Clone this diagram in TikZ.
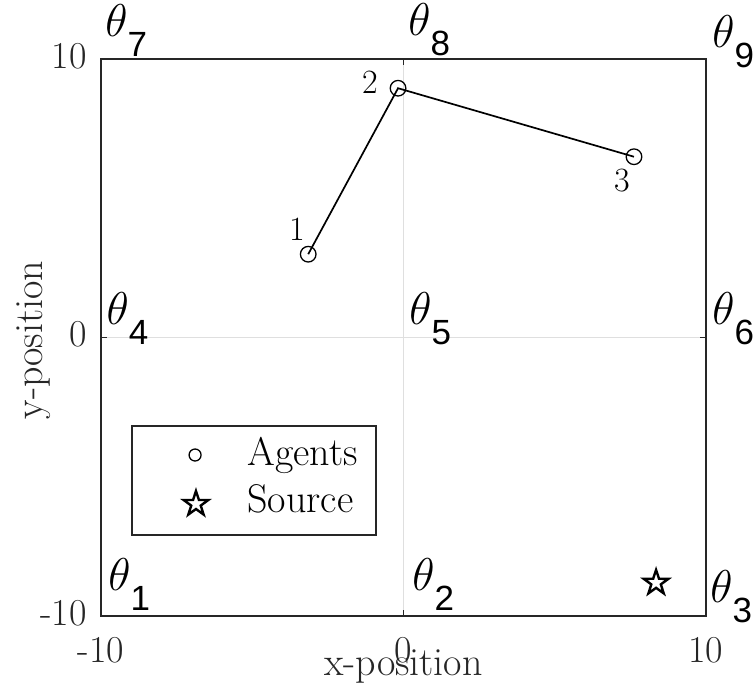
\documentclass[tikz,border=0pt]{standalone}
\usepackage{fontspec}
\usepackage{graphicx}
\usepackage{xcolor}
\usetikzlibrary{shapes.geometric, positioning}
\newfontfamily\helvfont{Liberation Sans}
\definecolor{axgray}{HTML}{262626}
\definecolor{gridgray}{HTML}{DFDFDF}
\newcommand{\regionlabel}[1]{\scalebox{1.33}{$\theta$}\raisebox{-10pt}{\helvfont #1}}
\tikzset{
	gridline/.style={draw=gridgray, line width=0.85pt},
	axbox/.style={draw=axgray, line width=0.9pt},
	ticklabel/.style={text=axgray, inner sep=0pt, font=\fontsize{19}{22}\selectfont},
	axlabel/.style={text=axgray, inner sep=0pt, anchor=base, font=\fontsize{20}{24}\selectfont},
	agent/.style={circle, draw, line width=0.65pt, minimum size=7.8pt, inner sep=0pt},
	source/.style={star, star points=5, star point ratio=2.6, draw, line width=1.2pt, minimum size=13pt, inner sep=0pt},
	link/.style={line width=0.85pt},
	num/.style={inner sep=0pt, font=\fontsize{17}{20}\selectfont},
	theta/.style={anchor=base west, inner sep=0pt, font=\fontsize{17.5}{20}\selectfont},
	legtext/.style={anchor=base west, inner sep=0pt, font=\fontsize{20}{24}\selectfont}
}

\begin{document}
\begin{tikzpicture}[x=15.125pt, y=13.925pt]
	\useasboundingbox (-13.339,-12.801) rectangle (11.554,12.118);
	
	% grid through the origin
	\draw[gridline] (0,-10) -- (0,10);
	\draw[gridline] (-10,0) -- (10,0);
	
	% axes box, ticks and tick labels
	\draw[axbox] (-10,-10) rectangle (10,10);
	\foreach \v/\n in {-10/a, 0/b, 10/c} {
		\draw[axbox] (\v,-10) -- ++(0pt,3pt);
		\draw[axbox] (\v,10) -- ++(0pt,-3pt);
		\draw[axbox] (-10,\v) -- ++(3pt,0pt);
		\draw[axbox] (10,\v) -- ++(-3pt,0pt);
		\node[ticklabel, anchor=north, yshift=-10.5pt] (xt\n) at (\v,-10) {\v};
		\node[ticklabel, anchor=east, xshift=-7pt, yshift=1.5pt] (yt\n) at (-10,\v) {\v};
	}
	\node[axlabel] (xlab) at (0,-12.12) {x-position};
	\node[axlabel, rotate=90] (ylab) at (-11.95,-0.09) {y-position};
	
	% region labels
	\foreach \i/\x/\y in {1/-9.77/-9.07, 2/0.28/-9.07, 3/10.13/-9.53,
		4/-9.83/0.45, 5/0.18/0.45, 6/10.20/0.45,
		7/-9.87/10.79, 8/0.15/10.83, 9/10.20/10.43}
		\node[theta] (t\i) at (\x,\y) {\regionlabel{\i}};
	
	% agents
	\node[agent] (a1) at (-3.15,2.99) {};
	\node[agent] (a2) at (-0.18,8.95) {};
	\node[agent] (a3) at (7.62,6.49) {};
	\draw[link] (a1.center) -- (a2.center) -- (a3.center);
	\node[num] (n1) at (-3.52,3.90) {1};
	\node[num] (n2) at (-1.11,9.17) {2};
	\node[num] (n3) at (7.22,5.62) {3};
	
	% source
	\node[source] (src) at (8.35,-8.81) {};
	
	% legend
	\node[draw=axgray, fill=white, line width=0.85pt, minimum width=122pt, minimum height=54.5pt, inner sep=0pt] (legend) at (-4.945,-5.135) {};
	\node[agent, minimum size=6pt] (lagent) at (-6.89,-4.22) {};
	\node[source] (lsource) at (-6.86,-5.98) {};
	\node[legtext] (lagtext) at (-5.17,-4.58) {Agents};
	\node[legtext] (lsrctext) at (-5.17,-6.30) {Source};
\end{tikzpicture}
\end{document}
